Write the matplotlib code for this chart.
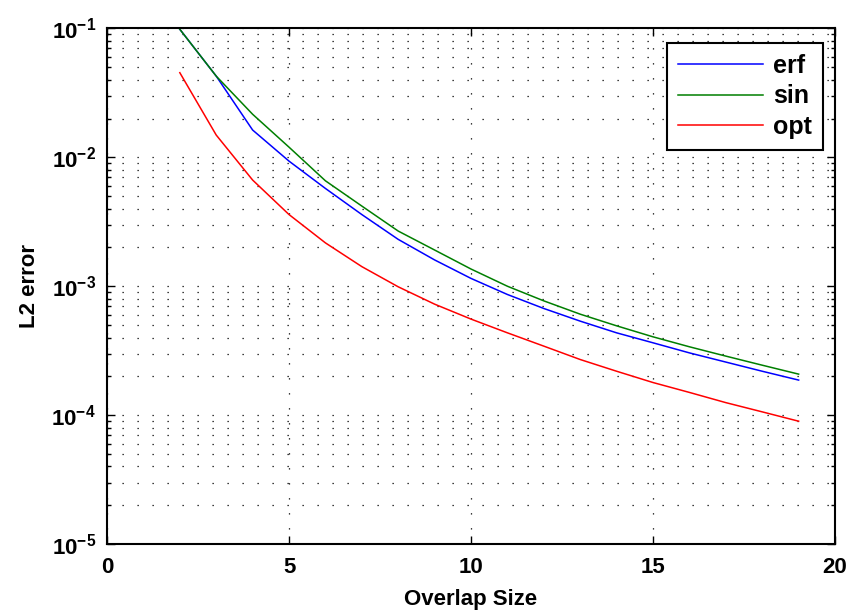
import numpy as np
import matplotlib
matplotlib.use("Agg")
import matplotlib.pyplot as plt
from matplotlib.ticker import LogLocator, NullFormatter

plt.rcParams['font.family'] = ['Liberation Sans', 'DejaVu Sans']
plt.rcParams['font.weight'] = 'bold'
plt.rcParams['mathtext.default'] = 'regular'

# overlap sizes and L2 errors
overlap = [2, 3, 4, 5, 6, 7, 8, 9, 10, 11, 12, 13, 14, 15, 16, 17, 18, 19]
err_erf = [0.0986, 0.0427, 0.0163, 0.00935, 0.00574, 0.0036, 0.00231, 0.0016, 0.00115,
           0.000863, 0.000672, 0.000536, 0.000435, 0.000364, 0.000304, 0.000258,
           0.000219, 0.000187]
err_sin = [0.0986, 0.0427, 0.0216, 0.012, 0.00658, 0.00419, 0.00268, 0.00191, 0.00136,
           0.001, 0.00077, 0.000607, 0.000493, 0.000405, 0.000339, 0.000287,
           0.000244, 0.000208]
err_opt = [0.0454, 0.0149, 0.00667, 0.0036, 0.00217, 0.00142, 0.00099, 0.000726, 0.000556,
           0.000435, 0.000343, 0.00027, 0.000219, 0.000179, 0.00015, 0.000125,
           0.000106, 0.0000897]

fig = plt.figure(figsize=(8.52, 6.14), dpi=100)
ax = fig.add_axes([0.1256, 0.114, 0.8545, 0.8396])

ax.semilogy(overlap, err_erf, color='#0000ff', lw=1.1, label='erf')
ax.semilogy(overlap, err_sin, color='#007f00', lw=1.1, label='sin')
ax.semilogy(overlap, err_opt, color='#ff0000', lw=1.1, label='opt')

ax.set_xlim(0, 20)
ax.set_ylim(1e-5, 1e-1)
ax.set_xticks([0, 5, 10, 15, 20])
ax.yaxis.set_major_locator(LogLocator(base=10, numticks=10))
ax.yaxis.set_minor_locator(LogLocator(base=10, subs=np.arange(2, 10), numticks=20))
ax.yaxis.set_minor_formatter(NullFormatter())

dots = (0, (1, 11))
ax.grid(True, which='major', axis='x', color='k', lw=0.9, linestyle=dots)
ax.grid(True, which='both', axis='y', color='k', lw=0.9, linestyle=dots)

ax.tick_params(which='both', direction='in', top=True, right=True, labelsize=16, width=1)
ax.tick_params(which='major', length=6)
ax.tick_params(which='minor', length=3)
ax.tick_params(axis='x', pad=9)
ax.tick_params(axis='y', pad=8)
for s in ax.spines.values():
    s.set_linewidth(1.5)

ax.set_xlabel('Overlap Size', fontsize=16, fontweight='bold', labelpad=8)
ax.set_ylabel('L2 error', fontsize=16, fontweight='bold', labelpad=8)

leg = ax.legend(loc='upper right', bbox_to_anchor=(0.9835, 0.972), fontsize=18,
                fancybox=False, framealpha=1, edgecolor='k', handlelength=3.4,
                borderaxespad=0, labelspacing=0.25, handletextpad=0.4,
                borderpad=0.45)
leg.get_frame().set_linewidth(1.5)

fig.savefig('out.png', dpi=100)
